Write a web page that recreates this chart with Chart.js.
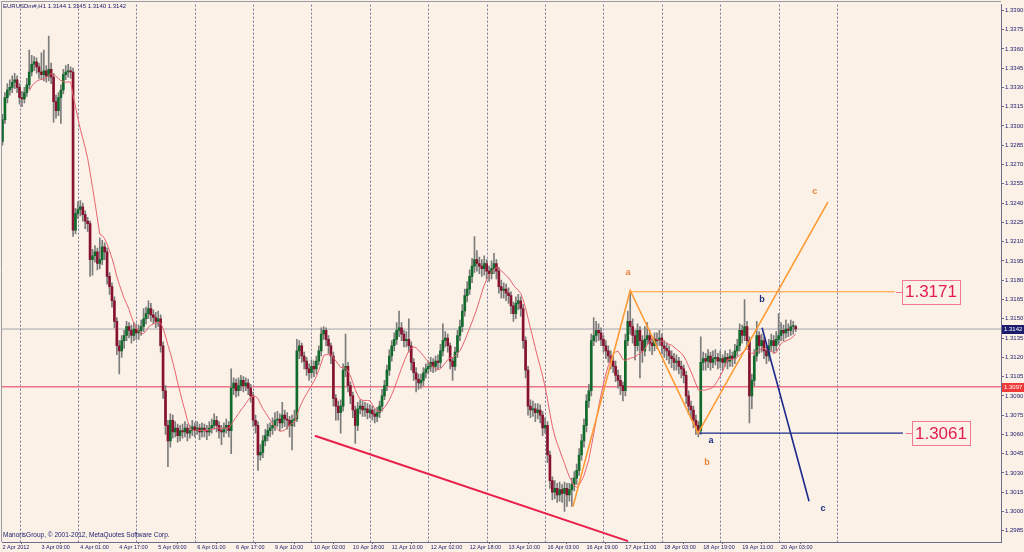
<!DOCTYPE html>
<html>
<head>
<meta charset="utf-8">
<script src="https://cdn.jsdelivr.net/npm/chart.js@4.4.1/dist/chart.umd.min.js"></script>
<style>
  html, body { margin: 0; padding: 0; background: #fbf1e6; }
</style>
</head>
<body>
<canvas id="chart" width="1024" height="552"></canvas>
<script>
// EURUSDm#, H1 - one value per hourly bar, 2 Apr 17:00 .. 20 Apr 09:00 (2012)
var firstOpen = 1.3288;

var closes = [
  1.3305,1.3322,1.3328,1.3330,1.3334,1.3336,1.3330,1.3322,1.3321,1.3326,
  1.3332,1.3342,1.3348,1.3350,1.3346,1.3342,1.3340,1.3343,1.3339,1.3344,
  1.3338,1.3319,1.3312,1.3322,1.3328,1.3340,1.3342,1.3343,1.3342,1.3219,
  1.3232,1.3235,1.3237,1.3231,1.3226,1.3224,1.3196,1.3199,1.3202,1.3193,
  1.3196,1.3206,1.3202,1.3183,1.3175,1.3164,1.3148,1.3129,1.3125,1.3133,
  1.3137,1.3144,1.3141,1.3137,1.3142,1.3139,1.3141,1.3144,1.3150,1.3154,
  1.3158,1.3153,1.3151,1.3148,1.3150,1.3129,1.3094,1.3067,1.3055,1.3071,
  1.3062,1.3065,1.3059,1.3063,1.3062,1.3065,1.3061,1.3063,1.3066,1.3063,
  1.3065,1.3062,1.3065,1.3063,1.3062,1.3065,1.3067,1.3071,1.3067,1.3063,
  1.3062,1.3065,1.3067,1.3063,1.3096,1.3100,1.3094,1.3098,1.3102,1.3098,
  1.3100,1.3096,1.3090,1.3071,1.3067,1.3044,1.3046,1.3055,1.3059,1.3063,
  1.3065,1.3067,1.3071,1.3072,1.3069,1.3075,1.3072,1.3071,1.3067,1.3071,
  1.3072,1.3125,1.3129,1.3121,1.3117,1.3111,1.3108,1.3113,1.3111,1.3117,
  1.3125,1.3138,1.3141,1.3134,1.3129,1.3121,1.3088,1.3082,1.3077,1.3082,
  1.3110,1.3113,1.3098,1.3090,1.3079,1.3067,1.3080,1.3082,1.3079,1.3080,
  1.3077,1.3079,1.3076,1.3074,1.3077,1.3082,1.3090,1.3098,1.3110,1.3121,
  1.3129,1.3134,1.3141,1.3143,1.3138,1.3133,1.3134,1.3129,1.3116,1.3108,
  1.3103,1.3100,1.3102,1.3108,1.3111,1.3113,1.3116,1.3113,1.3117,1.3116,
  1.3125,1.3133,1.3135,1.3129,1.3117,1.3113,1.3124,1.3137,1.3144,1.3156,
  1.3168,1.3173,1.3183,1.3191,1.3196,1.3193,1.3191,1.3189,1.3193,1.3187,
  1.3185,1.3189,1.3193,1.3187,1.3175,1.3172,1.3173,1.3170,1.3168,1.3160,
  1.3154,1.3162,1.3164,1.3158,1.3133,1.3110,1.3082,1.3079,1.3080,1.3077,
  1.3079,1.3075,1.3065,1.3067,1.3044,1.3024,1.3015,1.3018,1.3013,1.3017,
  1.3014,1.3018,1.3013,1.3017,1.3021,1.3026,1.3032,1.3044,1.3055,1.3067,
  1.3086,1.3094,1.3133,1.3137,1.3141,1.3139,1.3134,1.3129,1.3125,1.3121,
  1.3117,1.3113,1.3106,1.3102,1.3098,1.3094,1.3133,1.3148,1.3144,1.3137,
  1.3129,1.3141,1.3133,1.3125,1.3134,1.3137,1.3131,1.3129,1.3134,1.3133,
  1.3135,1.3129,1.3127,1.3125,1.3121,1.3119,1.3116,1.3117,1.3113,1.3111,
  1.3106,1.3090,1.3082,1.3079,1.3071,1.3067,1.3063,1.3116,1.3119,1.3117,
  1.3121,1.3116,1.3119,1.3120,1.3117,1.3119,1.3116,1.3120,1.3117,1.3121,
  1.3119,1.3125,1.3129,1.3141,1.3137,1.3144,1.3133,1.3090,1.3102,1.3121,
  1.3137,1.3129,1.3133,1.3125,1.3121,1.3129,1.3133,1.3129,1.3134,1.3137,
  1.3141,1.3139,1.3142,1.3141,1.3144,1.3144,1.3142
];

var highs = [
  1.3309,1.3326,1.3333,1.3336,1.3339,1.3341,1.3339,1.3333,1.3327,1.3330,
  1.3337,1.3359,1.3355,1.3354,1.3353,1.3349,1.3357,1.3359,1.3347,1.3370,
  1.3349,1.3341,1.3324,1.3326,1.3332,1.3344,1.3347,1.3348,1.3346,1.3345,
  1.3236,1.3241,1.3242,1.3240,1.3234,1.3229,1.3226,1.3204,1.3207,1.3205,
  1.3213,1.3211,1.3209,1.3205,1.3186,1.3178,1.3167,1.3151,1.3133,1.3137,
  1.3141,1.3148,1.3147,1.3145,1.3147,1.3146,1.3145,1.3149,1.3158,1.3159,
  1.3164,1.3162,1.3157,1.3155,1.3156,1.3153,1.3132,1.3098,1.3071,1.3076,
  1.3075,1.3070,1.3068,1.3067,1.3068,1.3070,1.3068,1.3067,1.3071,1.3069,
  1.3070,1.3068,1.3069,1.3068,1.3067,1.3070,1.3072,1.3076,1.3074,1.3070,
  1.3067,1.3069,1.3072,1.3070,1.3111,1.3104,1.3103,1.3104,1.3106,1.3105,
  1.3104,1.3103,1.3099,1.3093,1.3075,1.3070,1.3052,1.3059,1.3064,1.3068,
  1.3069,1.3073,1.3077,1.3078,1.3076,1.3085,1.3079,1.3077,1.3074,1.3075,
  1.3079,1.3134,1.3133,1.3131,1.3124,1.3120,1.3115,1.3118,1.3117,1.3121,
  1.3129,1.3143,1.3144,1.3143,1.3137,1.3131,1.3124,1.3091,1.3086,1.3087,
  1.3115,1.3138,1.3116,1.3101,1.3093,1.3082,1.3085,1.3087,1.3086,1.3085,
  1.3084,1.3083,1.3082,1.3080,1.3081,1.3086,1.3095,1.3102,1.3114,1.3126,
  1.3133,1.3139,1.3147,1.3156,1.3147,1.3141,1.3140,1.3150,1.3132,1.3119,
  1.3112,1.3107,1.3107,1.3112,1.3115,1.3117,1.3120,1.3119,1.3121,1.3122,
  1.3130,1.3146,1.3140,1.3138,1.3131,1.3120,1.3128,1.3141,1.3149,1.3161,
  1.3173,1.3179,1.3188,1.3197,1.3214,1.3203,1.3198,1.3196,1.3199,1.3196,
  1.3191,1.3195,1.3201,1.3196,1.3190,1.3180,1.3178,1.3177,1.3174,1.3171,
  1.3163,1.3167,1.3169,1.3167,1.3161,1.3136,1.3113,1.3087,1.3086,1.3084,
  1.3084,1.3083,1.3078,1.3073,1.3070,1.3047,1.3027,1.3024,1.3022,1.3023,
  1.3021,1.3023,1.3022,1.3022,1.3026,1.3031,1.3037,1.3049,1.3060,1.3072,
  1.3091,1.3099,1.3138,1.3151,1.3148,1.3146,1.3143,1.3137,1.3133,1.3129,
  1.3125,1.3121,1.3117,1.3110,1.3106,1.3101,1.3138,1.3156,1.3171,1.3150,
  1.3141,1.3146,1.3144,1.3137,1.3144,1.3147,1.3141,1.3135,1.3139,1.3139,
  1.3141,1.3138,1.3133,1.3131,1.3129,1.3125,1.3123,1.3122,1.3120,1.3117,
  1.3114,1.3109,1.3094,1.3086,1.3082,1.3075,1.3070,1.3136,1.3124,1.3123,
  1.3126,1.3124,1.3125,1.3126,1.3123,1.3125,1.3122,1.3125,1.3123,1.3126,
  1.3124,1.3130,1.3134,1.3146,1.3145,1.3165,1.3148,1.3136,1.3107,1.3126,
  1.3148,1.3140,1.3138,1.3136,1.3129,1.3134,1.3138,1.3137,1.3140,1.3154,
  1.3147,1.3145,1.3149,1.3146,1.3149,1.3148,1.3145
];

var lows = [
  1.3285,1.3302,1.3318,1.3324,1.3326,1.3329,1.3326,1.3317,1.3315,1.3318,
  1.3323,1.3329,1.3339,1.3343,1.3341,1.3337,1.3336,1.3335,1.3334,1.3335,
  1.3333,1.3303,1.3306,1.3308,1.3302,1.3325,1.3336,1.3338,1.3337,1.3214,
  1.3216,1.3228,1.3230,1.3226,1.3220,1.3218,1.3183,1.3184,1.3194,1.3188,
  1.3189,1.3192,1.3196,1.3177,1.3169,1.3159,1.3143,1.3122,1.3107,1.3120,
  1.3127,1.3133,1.3135,1.3131,1.3133,1.3134,1.3134,1.3137,1.3140,1.3146,
  1.3150,1.3148,1.3146,1.3143,1.3144,1.3124,1.3088,1.3060,1.3035,1.3050,
  1.3057,1.3058,1.3054,1.3055,1.3057,1.3058,1.3055,1.3057,1.3059,1.3058,
  1.3060,1.3056,1.3058,1.3058,1.3056,1.3059,1.3061,1.3064,1.3062,1.3057,
  1.3052,1.3058,1.3061,1.3058,1.3045,1.3091,1.3089,1.3090,1.3094,1.3093,
  1.3094,1.3091,1.3085,1.3066,1.3061,1.3032,1.3040,1.3042,1.3051,1.3055,
  1.3058,1.3060,1.3063,1.3066,1.3063,1.3065,1.3066,1.3064,1.3058,1.3048,
  1.3066,1.3070,1.3119,1.3116,1.3111,1.3106,1.3102,1.3104,1.3105,1.3107,
  1.3114,1.3121,1.3134,1.3129,1.3123,1.3115,1.3082,1.3071,1.3071,1.3061,
  1.3078,1.3105,1.3093,1.3084,1.3073,1.3053,1.3063,1.3076,1.3074,1.3074,
  1.3072,1.3073,1.3071,1.3069,1.3070,1.3073,1.3078,1.3087,1.3094,1.3106,
  1.3117,1.3125,1.3130,1.3136,1.3133,1.3128,1.3128,1.3124,1.3110,1.3102,
  1.3093,1.3095,1.3096,1.3098,1.3104,1.3107,1.3109,1.3108,1.3109,1.3111,
  1.3112,1.3121,1.3128,1.3124,1.3111,1.3102,1.3110,1.3120,1.3133,1.3140,
  1.3152,1.3163,1.3169,1.3178,1.3186,1.3187,1.3185,1.3183,1.3184,1.3181,
  1.3179,1.3181,1.3185,1.3181,1.3170,1.3166,1.3166,1.3164,1.3162,1.3154,
  1.3148,1.3150,1.3157,1.3152,1.3127,1.3104,1.3075,1.3073,1.3074,1.3070,
  1.3072,1.3069,1.3059,1.3061,1.3038,1.3018,1.3009,1.3010,1.3007,1.3008,
  1.3007,1.3000,1.3004,1.3008,1.3004,1.3016,1.3021,1.3028,1.3040,1.3050,
  1.3062,1.3081,1.3090,1.3129,1.3132,1.3133,1.3129,1.3124,1.3119,1.3116,
  1.3111,1.3108,1.3101,1.3096,1.3091,1.3086,1.3090,1.3129,1.3138,1.3131,
  1.3118,1.3125,1.3104,1.3116,1.3121,1.3130,1.3125,1.3122,1.3125,1.3127,
  1.3129,1.3123,1.3120,1.3118,1.3115,1.3112,1.3110,1.3110,1.3107,1.3104,
  1.3100,1.3084,1.3076,1.3072,1.3065,1.3060,1.3058,1.3060,1.3110,1.3110,
  1.3112,1.3110,1.3112,1.3114,1.3111,1.3112,1.3110,1.3113,1.3111,1.3113,
  1.3113,1.3115,1.3121,1.3125,1.3131,1.3133,1.3128,1.3069,1.3080,1.3098,
  1.3117,1.3123,1.3124,1.3119,1.3115,1.3117,1.3125,1.3123,1.3125,1.3130,
  1.3133,1.3133,1.3135,1.3136,1.3137,1.3138,1.3140
];

// time axis: one label every 16 bars
var timeLabels = [
  '2 Apr 2012', '3 Apr 09:00', '4 Apr 01:00', '4 Apr 17:00', '5 Apr 09:00',
  '6 Apr 01:00', '6 Apr 17:00', '9 Apr 10:00', '10 Apr 02:00', '10 Apr 18:00',
  '11 Apr 10:00', '12 Apr 02:00', '12 Apr 18:00', '13 Apr 10:00', '16 Apr 03:00',
  '16 Apr 19:00', '17 Apr 11:00', '18 Apr 03:00', '18 Apr 19:00', '19 Apr 11:00',
  '20 Apr 03:00'
];
var timeLabelBars = [0, 16, 32, 48, 64, 80, 96, 112, 128, 144, 160, 176, 192, 208, 224, 240, 256, 272, 288, 304, 320];
var gridBars = [7, 31, 55, 79, 103, 127, 151, 175, 199, 223, 247, 271, 295, 319, 343];

var priceTicks = [
  1.2985, 1.3000, 1.3015, 1.3030, 1.3045, 1.3060, 1.3075, 1.3090, 1.3105, 1.3120,
  1.3135, 1.3150, 1.3165, 1.3180, 1.3195, 1.3210, 1.3225, 1.3240, 1.3255, 1.3270,
  1.3285, 1.3300, 1.3315, 1.3330, 1.3345, 1.3360, 1.3375, 1.3390
];

var bidPrice = 1.3142;
var levelPrice = 1.3097;
var maPeriod = 12;

// hand drawn objects, [bar, price]
var orangeWave = [[234.5, 1.3004], [258.0, 1.3172], [285.9, 1.3061], [339.3, 1.3241]];
var orangeLevel = [[258.0, 1.3171], [366.8, 1.3171]];
var blueLevel = [[285.9, 1.3061], [370.1, 1.3061]];
var blueWave = [[312.2, 1.3143], [331.5, 1.3008]];
var redTrend = [[128.4, 1.3059], [257.1, 1.2977]];

var waveMarks = [
  { text: 'a', bar: 257.1, price: 1.3186, color: '#e8843c' },
  { text: 'b', bar: 289.6, price: 1.3038, color: '#e8843c' },
  { text: 'c', bar: 333.9, price: 1.3249, color: '#e8843c' },
  { text: 'a', bar: 291.2, price: 1.3055, color: '#1c2a7c' },
  { text: 'b', bar: 312.2, price: 1.3165, color: '#1c2a7c' },
  { text: 'c', bar: 337.2, price: 1.3002, color: '#1c2a7c' }
];
var priceBoxes = [
  { text: '1.3171', bar: 369.7, price: 1.3171 },
  { text: '1.3061', bar: 373.8, price: 1.3061 }
];

var navy = '#1a1a6e';
var axisColor = '#6c6c8c';
var smallFont = 'Liberation Sans, Arial, sans-serif';

var opens = [];
var wickData = [];
var bodyData = [];
var bodyColors = [];
var maData = [];
for (var i = 0; i < closes.length; i++) {
  opens.push(i === 0 ? firstOpen : closes[i - 1]);
  wickData.push({ x: i, y: [lows[i], highs[i]] });
  bodyData.push({ x: i, y: [opens[i], closes[i]] });
  bodyColors.push(closes[i] >= opens[i] ? '#0f6a2c' : '#86122f');
  if (i >= maPeriod - 1) {
    var sum = 0;
    for (var k = i - maPeriod + 1; k <= i; k++) sum += closes[k];
    maData.push({ x: i, y: sum / maPeriod });
  }
}

function pts(arr) {
  return arr.map(function (p) { return { x: p[0], y: p[1] }; });
}
function lineSet(data, color, width, order) {
  return {
    type: 'line', data: data, borderColor: color, borderWidth: width,
    pointRadius: 0, tension: 0, fill: false, order: order
  };
}

var X_MIN = -0.2, X_MAX = 410.4;
var Y_MIN = 1.297629, Y_MAX = 1.339444;

var mtPlugin = {
  id: 'mt4',
  beforeDraw: function (chart) {
    var ctx = chart.ctx;
    ctx.save();
    ctx.fillStyle = '#fbf1e6';
    ctx.fillRect(0, 0, chart.width, chart.height);
    ctx.restore();
  },
  beforeDatasetsDraw: function (chart) {
    var ctx = chart.ctx, a = chart.chartArea, x = chart.scales.x;
    ctx.save();
    ctx.strokeStyle = '#7878a0';
    ctx.lineWidth = 1;
    ctx.setLineDash([2, 2]);
    gridBars.forEach(function (b) {
      var px = Math.round(x.getPixelForValue(b)) + 0.5;
      ctx.beginPath();
      ctx.moveTo(px, a.top);
      ctx.lineTo(px, a.bottom);
      ctx.stroke();
    });
    ctx.setLineDash([]);
    ctx.strokeStyle = '#9a9aa8';
    ctx.beginPath();
    ctx.moveTo(1.5, 1);
    ctx.lineTo(1.5, a.bottom);
    ctx.moveTo(1, 1.5);
    ctx.lineTo(a.right, 1.5);
    ctx.stroke();
    ctx.restore();
  },
  afterDraw: function (chart) {
    var ctx = chart.ctx, a = chart.chartArea, x = chart.scales.x, y = chart.scales.y;
    ctx.save();
    // header and copyright
    ctx.fillStyle = navy;
    ctx.textBaseline = 'middle';
    ctx.textAlign = 'left';
    ctx.font = '6px ' + smallFont;
    ctx.fillText('EURUSDm#,H1 1.3144 1.3145 1.3140 1.3142', 3, 6);
    ctx.font = '6.5px ' + smallFont;
    ctx.fillText('ManorisGroup, \u00a9 2001-2012, MetaQuotes Software Corp.', 3, 535);

    // wave letters
    ctx.font = 'bold 9px ' + smallFont;
    ctx.textAlign = 'center';
    waveMarks.forEach(function (m) {
      ctx.fillStyle = m.color;
      ctx.fillText(m.text, x.getPixelForValue(m.bar), y.getPixelForValue(m.price));
    });

    // price text boxes
    ctx.font = '17px ' + smallFont;
    priceBoxes.forEach(function (b) {
      var bx = x.getPixelForValue(b.bar), by = y.getPixelForValue(b.price);
      var w = ctx.measureText(b.text).width + 6;
      ctx.strokeStyle = '#f07894';
      ctx.lineWidth = 1;
      ctx.beginPath();
      ctx.moveTo(bx - 6, Math.round(by) + 0.5);
      ctx.lineTo(bx, Math.round(by) + 0.5);
      ctx.stroke();
      ctx.fillStyle = '#fbf1e6';
      ctx.fillRect(bx, by - 12, w, 24);
      ctx.strokeRect(Math.round(bx) + 0.5, Math.round(by - 12) + 0.5, w, 24);
      ctx.fillStyle = '#e41e4e';
      ctx.textAlign = 'left';
      ctx.fillText(b.text, bx + 3, by + 1);
    });

    // price markers on the right axis
    [[bidPrice, '#1c1c6c'], [levelPrice, '#f03a3a']].forEach(function (p) {
      var py = Math.round(y.getPixelForValue(p[0]));
      ctx.fillStyle = p[1];
      ctx.fillRect(a.right + 1, py - 4, 22, 9);
      ctx.fillStyle = '#ffffff';
      ctx.font = '6px ' + smallFont;
      ctx.textAlign = 'left';
      ctx.fillText(p[0].toFixed(4), a.right + 3, py + 0.5);
    });
    ctx.restore();
  }
};

new Chart(document.getElementById('chart'), {
  data: {
    datasets: [
      lineSet(pts(redTrend), '#e8204a', 2, 0),
      lineSet(pts(orangeWave), '#ff9a33', 1.6, 0),
      lineSet(pts(orangeLevel), '#ff9a33', 1.2, 0),
      lineSet(pts(blueLevel), '#1c2a8c', 1.2, 0),
      lineSet(pts(blueWave), '#1c2a8c', 1.6, 0),
      lineSet(maData, '#e8646e', 1, 1),
      lineSet([{ x: X_MIN, y: bidPrice }, { x: X_MAX, y: bidPrice }], '#a4a4ac', 1, 5),
      lineSet([{ x: X_MIN, y: levelPrice }, { x: X_MAX, y: levelPrice }], '#ee7684', 1.5, 5),
      {
        type: 'bar', data: bodyData, backgroundColor: bodyColors,
        barThickness: 2, minBarLength: 1, grouped: false, order: 2
      },
      {
        type: 'bar', data: wickData, backgroundColor: '#7c7c7c',
        barThickness: 1, grouped: false, order: 3
      }
    ]
  },
  options: {
    responsive: false,
    animation: false,
    events: [],
    layout: { padding: { left: 2, top: 2, right: 0, bottom: 0 } },
    plugins: { legend: { display: false }, tooltip: { enabled: false } },
    scales: {
      x: {
        type: 'linear', min: X_MIN, max: X_MAX, offset: false,
        afterFit: function (s) { s.height = 10; },
        afterBuildTicks: function (s) {
          s.ticks = timeLabelBars.map(function (b) { return { value: b }; });
        },
        ticks: {
          autoSkip: false, maxRotation: 0, minRotation: 0, align: 'start', padding: 0,
          color: navy, font: { size: 5.5, family: smallFont },
          callback: function (v, i) { return timeLabels[i]; }
        },
        grid: { drawOnChartArea: false, tickLength: 2, color: axisColor },
        border: { color: axisColor }
      },
      y: {
        type: 'linear', position: 'right', min: Y_MIN, max: Y_MAX,
        afterFit: function (s) { s.width = 23; },
        afterBuildTicks: function (s) {
          s.ticks = priceTicks.map(function (v) { return { value: v }; });
        },
        ticks: {
          padding: 1, color: navy, font: { size: 6, family: smallFont },
          callback: function (v) { return v.toFixed(4); }
        },
        grid: { drawOnChartArea: false, tickLength: 3, color: axisColor },
        border: { color: axisColor }
      }
    }
  },
  plugins: [mtPlugin]
});
</script>
</body>
</html>
